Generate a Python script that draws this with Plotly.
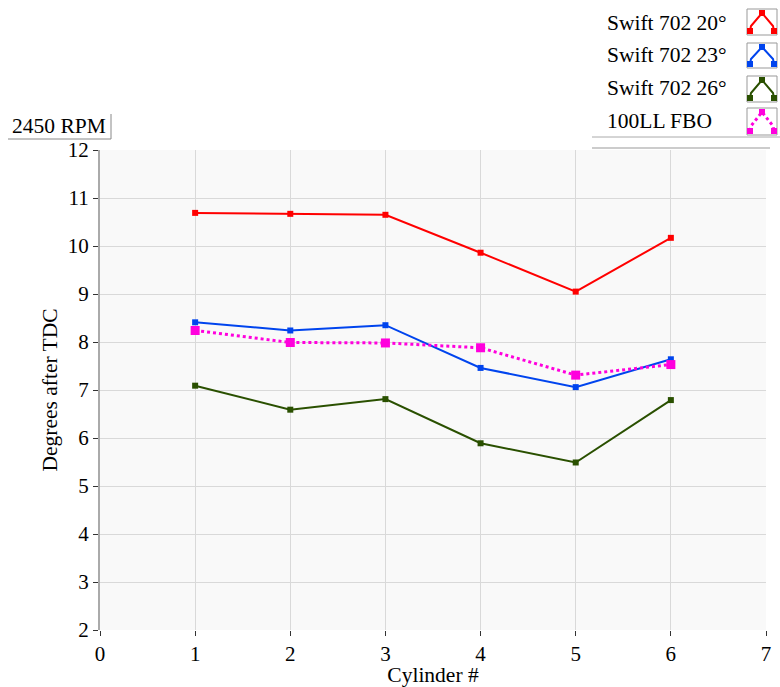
import plotly.graph_objects as go

cylinders = [1, 2, 3, 4, 5, 6]
swift_20 = [10.69, 10.67, 10.65, 9.86, 9.05, 10.17]
swift_23 = [8.41, 8.24, 8.35, 7.46, 7.06, 7.64]
swift_26 = [7.09, 6.59, 6.81, 5.89, 5.49, 6.79]
fbo_100ll = [8.24, 7.99, 7.98, 7.88, 7.31, 7.53]

series_names = ["Swift 702 20°", "Swift 702 23°", "Swift 702 26°", "100LL FBO"]
series_values = [swift_20, swift_23, swift_26, fbo_100ll]
colors = ["#ff0000", "#0044ee", "#2a5000", "#ff00dd"]
dashes = ["solid", "solid", "solid", "dot"]
widths = [2, 2, 2, 3]
msizes = [6, 6, 6, 9]

x_ticks = [0, 1, 2, 3, 4, 5, 6, 7]
y_ticks = [2, 3, 4, 5, 6, 7, 8, 9, 10, 11, 12]

W, H = 780, 687
L, R, T, B = 100, 14, 150, 57
PW, PH = W - L - R, H - T - B

def px(x):
    return (x - L) / PW

def py(y):
    return (H - B - y) / PH

FONT = "Liberation Serif, Times New Roman, serif"

fig = go.Figure()
for name, vals, c, d, w, m in zip(series_names, series_values, colors, dashes, widths, msizes):
    fig.add_trace(go.Scatter(
        x=cylinders, y=vals, name=name, mode="lines+markers",
        line=dict(color=c, width=w, dash=d),
        marker=dict(symbol="square", size=m, color=c),
        showlegend=False,
    ))

shapes = []
annotations = []

# Custom legend (text left, icon box right)
row_centers = [23, 55, 88, 121]
box_tops = [9, 43, 76, 108]
box_bots = [35, 68, 102, 135]
for name, c, d, yc, bt, bb in zip(series_names, colors, dashes, row_centers, box_tops, box_bots):
    annotations.append(dict(
        x=px(605), y=py(yc), xref="paper", yref="paper", text=name,
        showarrow=False, xanchor="left", yanchor="middle",
        font=dict(family=FONT, size=21.5, color="black"),
    ))
    shapes.append(dict(type="rect", xref="paper", yref="paper",
                       x0=px(747), x1=px(777), y0=py(bb), y1=py(bt),
                       line=dict(color="#999999", width=1), fillcolor="white"))
    x0, x1, xm = px(750), px(774), px(762)
    ylo, yhi = py(bb - 4), py(bt + 4)
    shapes.append(dict(type="path", xref="paper", yref="paper",
                       path=f"M {x0},{ylo} L {px(751)},{py(bb-9)} L {xm},{yhi} L {px(773)},{py(bb-9)} L {x1},{ylo}",
                       line=dict(color=c, width=2 if d == "solid" else 3, dash=d)))
    for mx, my in [(x0, ylo), (xm, yhi), (x1, ylo)]:
        shapes.append(dict(type="rect", xref="paper", yref="paper",
                           x0=mx - 3 / PW, x1=mx + 3 / PW, y0=my - 3 / PH, y1=my + 3 / PH,
                           line=dict(width=0), fillcolor=c))

shapes.append(dict(type="line", xref="paper", yref="paper",
                   x0=px(592), x1=px(780), y0=py(137), y1=py(137),
                   line=dict(color="#aaaaaa", width=1)))
shapes.append(dict(type="line", xref="paper", yref="paper",
                   x0=px(592), x1=px(770), y0=py(148), y1=py(148),
                   line=dict(color="#999999", width=1)))

# "2450 RPM" label box
annotations.append(dict(
    x=px(59), y=py(126), xref="paper", yref="paper", text="2450 RPM",
    showarrow=False, xanchor="center", yanchor="middle",
    font=dict(family=FONT, size=21.5, color="black"),
))
shapes.append(dict(type="line", xref="paper", yref="paper",
                   x0=px(8), x1=px(111), y0=py(139), y1=py(139),
                   line=dict(color="#888888", width=1)))
shapes.append(dict(type="line", xref="paper", yref="paper",
                   x0=px(111), x1=px(111), y0=py(139), y1=py(114),
                   line=dict(color="#888888", width=1)))

fig.update_layout(
    width=W, height=H,
    margin=dict(l=L, r=R, t=T, b=B, autoexpand=False),
    paper_bgcolor="white",
    plot_bgcolor="#f9f9f9",
    font=dict(family=FONT, size=21, color="black"),
    shapes=shapes,
    annotations=annotations,
    showlegend=False,
)
fig.update_xaxes(
    range=[0, 7], tickvals=x_ticks, ticktext=[str(v) for v in x_ticks],
    showgrid=True, gridcolor="#d9d9d9", gridwidth=1,
    ticks="outside", ticklen=5, tickcolor="#333333",
    showline=False, zeroline=False, automargin=False,
    title=dict(text="Cylinder #", standoff=2, font=dict(size=21.5)),
    tickfont=dict(size=21),
)
fig.update_yaxes(
    range=[2, 12], tickvals=y_ticks, ticktext=[str(v) for v in y_ticks],
    showgrid=True, gridcolor="#d9d9d9", gridwidth=1,
    ticks="outside", ticklen=5, tickcolor="#333333",
    showline=True, linecolor="#aaaaaa", linewidth=2, zeroline=False, automargin=False,
    title=dict(text="Degrees after TDC", standoff=4, font=dict(size=21.5)),
    tickfont=dict(size=21),
)

fig.write_html("out.html", config={"displayModeBar": False},
               post_script="document.body.style.margin='0';")
